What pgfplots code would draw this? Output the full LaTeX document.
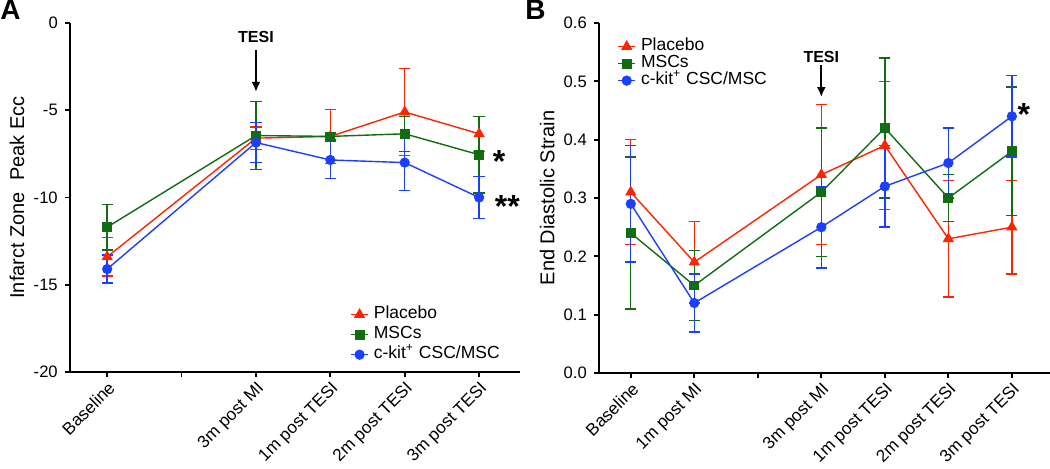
\documentclass[border=0pt]{standalone}
\usepackage{pgfplots}
\pgfplotsset{compat=1.18}
\usepackage{fontspec}
\setmainfont{Liberation Sans}
\usetikzlibrary{arrows.meta}

\definecolor{pred}{RGB}{255,36,0}
\definecolor{pgreen}{RGB}{18,108,18}
\definecolor{pblue}{RGB}{28,62,255}

\tikzset{
  tesi/.style={line width=1pt, -{Latex[length=5pt,width=4.5pt]}},
  star/.style={font=\bfseries\fontsize{16}{16}\selectfont, anchor=north, inner sep=0pt, yshift=2.4pt},
}

\pgfplotsset{
  panel/.style={
    scale only axis,
    axis x line*=bottom,
    axis y line*=left,
    axis line style={line width=1pt},
    every tick/.style={black, line width=0.9pt},
    major tick length=2.6pt,
    tick align=outside,
    yticklabel style={font=\fontsize{8.3}{9.6}\selectfont},
    xticklabel style={font=\fontsize{8.6}{9.6}\selectfont, rotate=45, anchor=north east, inner sep=1pt},
    ylabel style={font=\fontsize{10}{12}\selectfont, anchor=center},
    legend cell align=left,
    legend image code/.code={\draw[mark repeat=2,mark phase=2] plot coordinates {(0pt,0pt)(4.3pt,0pt)(8.6pt,0pt)};},
    every axis plot/.append style={line width=0.7pt},
    error bars/y dir=both,
    error bars/y explicit,
    error bars/error bar style={line width=0.7pt},
    error bars/error mark options={rotate=90, mark size=2.8pt, line width=0.7pt},
  },
  placebo/.style={color=pred, mark=triangle*, mark size=2.6pt},
  mscs/.style={color=pgreen, mark=square*, mark size=2.1pt},
  ckit/.style={color=pblue, mark=*, mark size=2.2pt},
}

\begin{document}
\begin{tikzpicture}
% ---------- panel A ----------
\begin{axis}[
    panel,
    at={(35pt,48.5pt)}, anchor=south west,
    width=225pt, height=174.5pt,
    xmin=-0.5, xmax=5.55,
    ymin=-20, ymax=0,
    xtick={0,1,2,3,4,5},
    xticklabels={Baseline,,3m post MI,1m post TESI,2m post TESI,3m post TESI},
    ytick={-20,-15,-10,-5,0},
    yticklabels={-20,-15,-10,-5,0},
    ylabel={Infarct Zone~~Peak Ecc},
    ylabel style={at={(rel axis cs:-0.118,0.5)}},
    legend style={at={(rel axis cs:0.622,0.194)}, anchor=north west,
        draw=none, fill=none, inner sep=0pt, row sep=0pt,
        font=\fontsize{8.75}{10}\selectfont,
        nodes={inner ysep=0pt, inner xsep=2.5pt, text height=7pt, text depth=3pt}},
]
\addplot[placebo] coordinates {
    (0,-13.4) +- (0,1.1)
    (2,-6.6)  +- (0,0.65)
    (3,-6.5)  +- (0,1.55)
    (4,-5.1)  +- (0,2.5)
    (5,-6.35) +- (0,1.0)};
\addlegendentry{Placebo}
\addplot[mscs] coordinates {
    (0,-11.7)  +- (0,1.3)
    (2,-6.45)  +- (0,1.95)
    (3,-6.5)   +- (0,0.2)
    (4,-6.35)  +- (0,1.0)
    (5,-7.55)  +- (0,2.2)};
\addlegendentry{MSCs}
\addplot[ckit] coordinates {
    (0,-14.1)  +- (0,0.8)
    (2,-6.85)  +- (0,1.15)
    (3,-7.85)  +- (0,1.05)
    (4,-8.0)   +- (0,1.6)
    (5,-10.0)  +- (0,1.2)};
\addlegendentry{c-kit\textsuperscript{+} CSC/MSC}

\node[font=\bfseries\fontsize{8}{8}\selectfont] at (axis cs:2,-0.8) {TESI};
\draw[tesi] (axis cs:2,-1.55) -- (axis cs:2,-3.95);
\node[star] at (axis cs:5.27,-7.56) {*};
\node[star] at (axis cs:5.38,-10.14) {**};
\end{axis}

% ---------- panel B ----------
\begin{axis}[
    panel,
    at={(299.5pt,48pt)}, anchor=south west,
    width=225.5pt, height=175pt,
    xmin=-0.5, xmax=6.6,
    ymin=0, ymax=0.6,
    xtick={0,1,2,3,4,5,6},
    xticklabels={Baseline,1m post MI,,3m post MI,1m post TESI,2m post TESI,3m post TESI},
    ytick={0,0.1,0.2,0.3,0.4,0.5,0.6},
    yticklabels={0.0,0.1,0.2,0.3,0.4,0.5,0.6},
    ylabel={End Diastolic Strain},
    ylabel style={at={(rel axis cs:-0.115,0.5)}},
    legend style={at={(rel axis cs:0.04,0.958)}, anchor=north west,
        draw=none, fill=none, inner sep=0pt, row sep=0pt,
        font=\fontsize{8.75}{10}\selectfont,
        nodes={inner ysep=0pt, inner xsep=2.5pt, text height=6.3pt, text depth=2.2pt}},
]
\addplot[placebo] coordinates {
    (0,0.31) +- (0,0.09)
    (1,0.19) +- (0,0.07)
    (3,0.34) +- (0,0.12)
    (4,0.39) +- (0,0.11)
    (5,0.23) +- (0,0.10)
    (6,0.25) +- (0,0.08)};
\addlegendentry{Placebo}
\addplot[mscs] coordinates {
    (0,0.24) +- (0,0.13)
    (1,0.15) +- (0,0.06)
    (3,0.31) +- (0,0.11)
    (4,0.42) +- (0,0.12)
    (5,0.30) +- (0,0.04)
    (6,0.38) +- (0,0.11)};
\addlegendentry{MSCs}
\addplot[ckit] coordinates {
    (0,0.29) +- (0,0.10)
    (1,0.12) +- (0,0.05)
    (3,0.25) +- (0,0.07)
    (4,0.32) +- (0,0.07)
    (5,0.36) +- (0,0.06)
    (6,0.44) +- (0,0.07)};
\addlegendentry{c-kit\textsuperscript{+} CSC/MSC}

\node[font=\bfseries\fontsize{8}{8}\selectfont] at (axis cs:3,0.542) {TESI};
\draw[tesi] (axis cs:3,0.528) -- (axis cs:3,0.473);
\node[star] at (axis cs:6.19,0.454) {*};
\end{axis}

\node[anchor=north west, inner sep=0pt, font=\bfseries\fontsize{14}{14}\selectfont] at (0pt,234.5pt) {A};
\node[anchor=north west, inner sep=0pt, font=\bfseries\fontsize{14}{14}\selectfont] at (262.5pt,234.5pt) {B};

\pgfresetboundingbox
\path[use as bounding box] (0pt,0pt) rectangle (525pt,234.5pt);
\end{tikzpicture}
\end{document}
